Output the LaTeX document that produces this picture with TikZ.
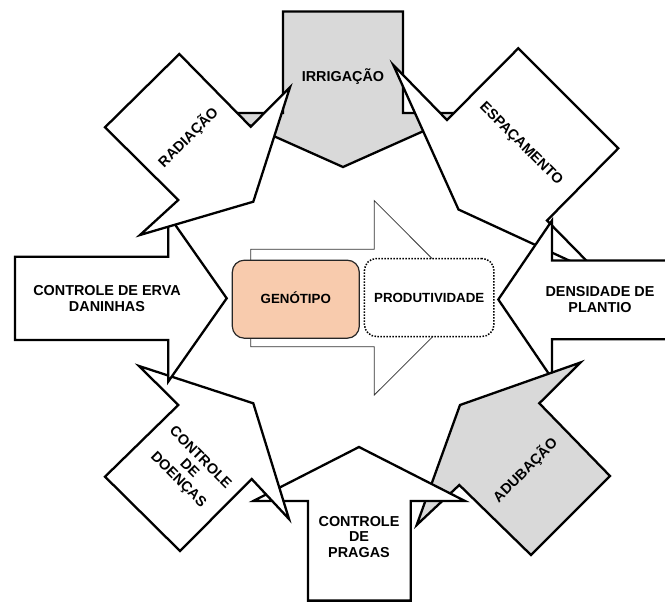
\documentclass[tikz,border=0pt]{standalone}
\usepackage{fontspec}
\setmainfont{Liberation Sans}
\definecolor{graybg}{RGB}{217,217,217}
\definecolor{genofill}{RGB}{248,203,173}
\begin{document}
\begin{tikzpicture}[x=1pt,y=-1pt,
  arr/.style={draw=black,line width=2.3pt,line join=miter,fill=white},
  grayarr/.style={arr,fill=graybg},
  lbl/.style={font=\fontsize{14.4}{15.5}\selectfont\bfseries,align=center,inner sep=0pt},
  onelbl/.style={lbl,text height=10.3pt,text depth=0pt},
  inbox/.style={rounded corners=12pt,font=\fontsize{13.3}{15}\selectfont\bfseries,
    text height=9.5pt,text depth=0pt,inner sep=0pt},
  centralarrow/.style={draw=black!80,line width=0.8pt,fill=white,line join=miter}]
\useasboundingbox (0,0) rectangle (665,602);
\clip (0,0) rectangle (665,602);
\fill[white] (0,0) rectangle (665,602);

% IRRIGACAO (top, pointing down)
\draw[grayarr] (283,11.5) -- (403,11.5) -- (403,113) -- (464,113) -- (343,167)
  -- (222,113) -- (283,113) -- cycle;
% ESPACAMENTO (upper right)
\draw[arr] (518.3,48.3) -- (618.3,148.3) -- (547,220.5) -- (600.5,275)
  -- (458.5,209.5) -- (393.3,65) -- (447,120) -- cycle;
% DENSIDADE DE PLANTIO (right)
\draw[arr] (672,260.5) -- (552,260.5) -- (552,220.5) -- (498.3,299.5)
  -- (552,378.5) -- (552,339.3) -- (672,339.3);
% ADUBACAO (lower right)
\draw[grayarr] (539.3,403.3) -- (580.5,362.5) -- (460,405) -- (416.7,525)
  -- (459.3,485) -- (531,555) -- (610,476) -- cycle;
% CONTROLE DE PRAGAS (bottom)
\draw[arr] (308,600.6) -- (308,501) -- (253.3,501) -- (359,447) -- (465,501)
  -- (410.7,501) -- (410.7,600.6) -- cycle;
% CONTROLE DE DOENCAS (lower left)
\draw[arr] (178.3,405) -- (139,366) -- (253.3,403.3) -- (289,519)
  -- (251.7,479) -- (180,551) -- (105,476.7) -- cycle;
% CONTROLE DE ERVA DANINHAS (left)
\draw[arr] (15,256.7) -- (168.3,256.7) -- (168.3,215) -- (226.7,298.3)
  -- (168.3,381.5) -- (168.3,340) -- (15,340) -- cycle;
% RADIACAO (upper left)
\draw[arr] (179.3,54) -- (250.7,126.7) -- (290,87.3) -- (253.3,201.7)
  -- (140,235) -- (178.3,200) -- (105,127.3) -- cycle;

% central arrow
\draw[centralarrow] (250.7,249.3) -- (374.3,249.3) -- (374.3,200.7) -- (471.5,298)
  -- (374.3,395) -- (374.3,346.7) -- (250.7,346.7) -- cycle;

\node[inbox,draw=black!85,line width=1.2pt,fill=genofill,
  minimum width=127pt,minimum height=78pt] (geno) at (295.8,299.2) {GENÓTIPO};
\node[inbox,draw=black,line width=1.5pt,fill=white,dash pattern=on 1.5pt off 1.5pt,
  minimum width=129.5pt,minimum height=78pt] (prod) at (429.2,297.5) {PRODUTIVIDADE};

% labels
\node[onelbl] (tirrig) at (343,76) {IRRIGAÇÃO};
\node[onelbl,rotate=45] (trad) at (188,137) {RADIAÇÃO};
\node[onelbl,rotate=-45] (tesp) at (522,143) {ESPAÇAMENTO};
\node[lbl] (terva) at (107,298.5) {CONTROLE DE ERVA\\DANINHAS};
\node[lbl] (tdens) at (600,299.5) {DENSIDADE DE\\PLANTIO};
\node[onelbl,rotate=45] (tadub) at (525,470) {ADUBAÇÃO};
\node[lbl] (tprag) at (359,537) {CONTROLE\\DE\\PRAGAS};
\node[lbl,rotate=-45] (tdoen) at (189,469) {CONTROLE\\DE\\DOENÇAS};
\end{tikzpicture}
\end{document}
